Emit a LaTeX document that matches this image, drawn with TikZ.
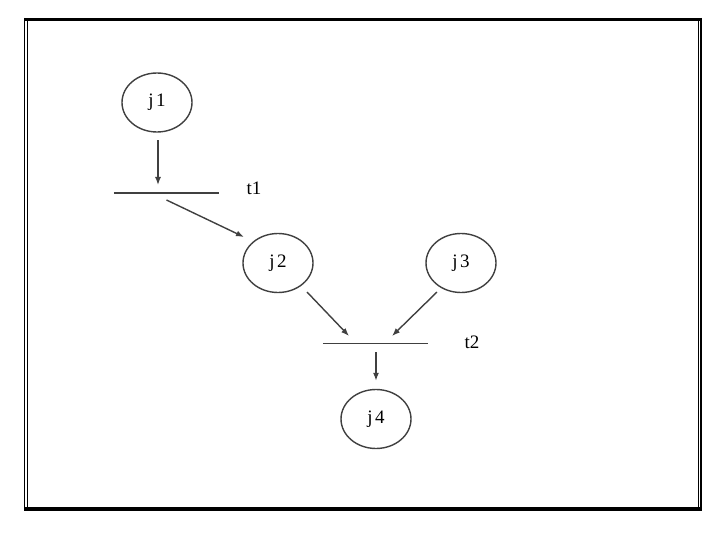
\documentclass[tikz,border=0pt]{standalone}
\usepackage{fontspec}
\setmainfont{Liberation Serif}
\usetikzlibrary{arrows.meta,shapes.geometric}
\definecolor{ink}{HTML}{404040}
\tikzset{
  place/.style={ellipse, draw=ink, line width=1.4pt, minimum width=70pt, minimum height=59pt, inner sep=0pt, font=\fontsize{19}{21}\selectfont},
  bar/.style={inner sep=0pt, minimum width=105pt, minimum height=0pt},
  barline/.style={draw=ink, line width=1.6pt},
  arr/.style={draw=ink, line width=1.4pt, -{Latex[length=8pt,width=6pt]}},
  lbl/.style={font=\fontsize{19}{21}\selectfont, inner sep=0pt},
  frame/.style={line width=#1, black}
}
\begin{document}
\begin{tikzpicture}[x=1pt,y=-1pt]
\useasboundingbox (0,0) rectangle (720,540);
% frame
\draw[frame=1pt] (24.5,18) -- (24.5,510);
\draw[frame=1pt] (27,20) -- (27,507);
\draw[frame=1pt] (698.5,20) -- (698.5,507);
\draw[frame=2pt] (700.5,18) -- (700.5,511);
\draw[frame=3.5pt] (24,19.5) -- (702,19.5);
\draw[frame=3.5pt] (24,508.8) -- (702,508.8);
% nodes
\node[place] (j1) at (157,102.5) {j\kern2.5pt 1};
\node[place] (j2) at (278,263) {j\kern2.5pt 2};
\node[place] (j3) at (461,263) {j\kern2.5pt 3};
\node[place] (j4) at (376,419) {j\kern2.5pt 4};
\node[bar] (t1) at (166.5,193) {};
\node[bar] (t2) at (375.5,343.5) {};
\draw[barline] (t1.west) -- (t1.east);
\draw[barline] (t2.west) -- (t2.east);
\node[lbl] (t1l) at (254,188) {t1};
\node[lbl] (t2l) at (472,342) {t2};
% arcs
\draw[arr] ([shift={(1,7.5)}]j1.south) -- ([shift={(-8.5,-8)}]t1.center);
\draw[arr] ([shift={(0,7)}]t1.center) -- ([shift={(-34,-26)}]j2.center);
\draw[arr] ([shift={(29,29)}]j2.center) -- ([shift={(-26.5,-7.5)}]t2.center);
\draw[arr] ([shift={(-24,29)}]j3.center) -- ([shift={(16.5,-7.5)}]t2.center);
\draw[arr] ([shift={(0.5,8.5)}]t2.center) -- ([shift={(0,-8)}]j4.north);
\end{tikzpicture}
\end{document}
